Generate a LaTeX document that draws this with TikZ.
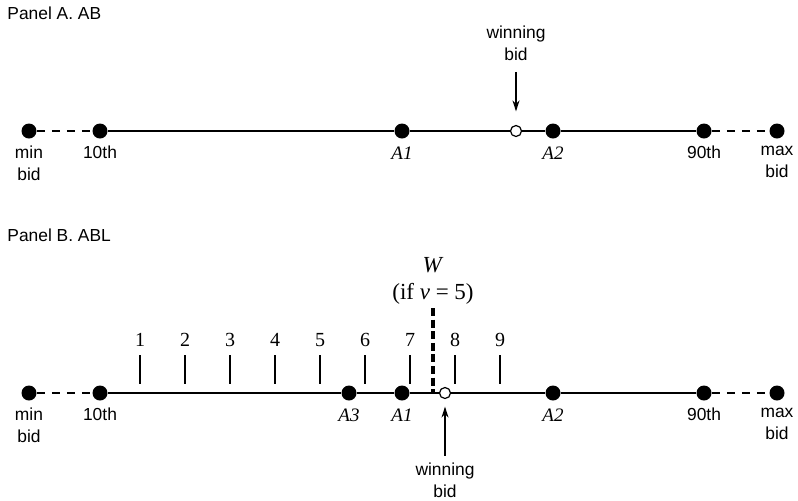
\documentclass[tikz,border=0pt]{standalone}
\usepackage{fontspec}
\setmainfont{Liberation Sans}
\newfontfamily\bidserif{Liberation Serif}
\usetikzlibrary{positioning,arrows.meta}
\tikzset{
  bidline/.style={line width=1.25pt},
  tailline/.style={line width=1.25pt, dash pattern=on 4pt off 3.5pt},
  biddot/.style={circle, fill, inner sep=0pt, minimum size=7.5pt},
  opendot/.style={circle, draw, fill=white, line width=0.6pt, inner sep=0pt, minimum size=5.5pt},
  sanslabel/.style={font=\fontsize{8.7}{11}\selectfont, align=center, inner sep=0pt},
  alabel/.style={font=\bidserif\itshape\fontsize{9.5}{11}\selectfont, inner sep=0pt},
  ticklabel/.style={font=\bidserif\fontsize{10}{12}\selectfont, inner sep=0pt},
  tickmark/.style={line width=0.7pt},
  cutline/.style={line width=1.6pt, dash pattern=on 4pt off 1.8pt},
  bidarrow/.style={-{Stealth[length=5.5pt, width=3.5pt]}, line width=0.7pt},
  panel/.style={font=\fontsize{8.7}{11}\selectfont, anchor=west, inner sep=0pt}
}
\begin{document}
\begin{tikzpicture}[x=0.5pt, y=-0.5pt]
  \useasboundingbox (0,0) rectangle (798,500);
  % Panel A
  \node[panel] (titleA) at (7,13) {Panel A. AB};
  \node[biddot] (minA) at (29,131) {};
  \node[biddot] (tenA) at (100,131) {};
  \node[biddot] (A1a) at (402,131) {};
  \node[opendot] (winA) at (516,131) {};
  \node[biddot] (A2a) at (553,131) {};
  \node[biddot] (ninA) at (704,131) {};
  \node[biddot] (maxA) at (777,131) {};
  \draw[tailline] (minA) -- (tenA);
  \draw[bidline] (tenA) -- (A1a) -- (winA) -- (A2a) -- (ninA);
  \draw[tailline] (ninA) -- (maxA);
  \node[sanslabel, below=3.5pt of minA] (minlabA) {min\\bid};
  \node[sanslabel, below=3.5pt of tenA] (tenlabA) {10th};
  \node[alabel, below=4pt of A1a] (A1labA) {A1};
  \node[alabel, below=4pt of A2a] (A2labA) {A2};
  \node[sanslabel, below=3.5pt of ninA] (ninlabA) {90th};
  \node[sanslabel, below=3.5pt of maxA] (maxlabA) {max\\bid};
  \node[sanslabel, above=32pt of winA] (winlabA) {winning\\bid};
  \draw[bidarrow, shorten <=5.5pt, shorten >=6.75pt] (winlabA) -- (winA);

  % Panel B
  \node[panel] (titleB) at (7,235) {Panel B. ABL};
  \foreach \k in {1,...,9}{
    \node[ticklabel] (num\k) at ({95+45*\k},340) {\k};
    \draw[tickmark] ({95+45*\k},355) -- ({95+45*\k},384);
  }
  \coordinate (cutTop) at (433,308);
  \coordinate (cutBot) at (433,392);
  \draw[cutline] (cutTop) -- (cutBot);
  \node[font=\bidserif\fontsize{11.5}{13.5}\selectfont, align=center, inner sep=0pt] (wlab) at (433,281) {\textit{W}\\(if \textit{ν} = 5)};
  \node[biddot] (minB) at (29,393) {};
  \node[biddot] (tenB) at (100,393) {};
  \node[biddot] (A3b) at (349,393) {};
  \node[biddot] (A1b) at (402,393) {};
  \node[opendot] (winB) at (445,393) {};
  \node[biddot] (A2b) at (553,393) {};
  \node[biddot] (ninB) at (704,393) {};
  \node[biddot] (maxB) at (777,393) {};
  \draw[tailline] (minB) -- (tenB);
  \draw[bidline] (tenB) -- (A3b) -- (A1b) -- (winB) -- (A2b) -- (ninB);
  \draw[tailline] (ninB) -- (maxB);
  \node[sanslabel, below=3.5pt of minB] (minlabB) {min\\bid};
  \node[sanslabel, below=3.5pt of tenB] (tenlabB) {10th};
  \node[alabel, below=4pt of A3b] (A3labB) {A3};
  \node[alabel, below=4pt of A1b] (A1labB) {A1};
  \node[alabel, below=4pt of A2b] (A2labB) {A2};
  \node[sanslabel, below=3.5pt of ninB] (ninlabB) {90th};
  \node[sanslabel, below=3.5pt of maxB] (maxlabB) {max\\bid};
  \node[sanslabel, below=31.75pt of winB] (winlabB) {winning\\bid};
  \draw[bidarrow, shorten <=3.5pt, shorten >=3.75pt] (winlabB) -- (winB);
\end{tikzpicture}
\end{document}
